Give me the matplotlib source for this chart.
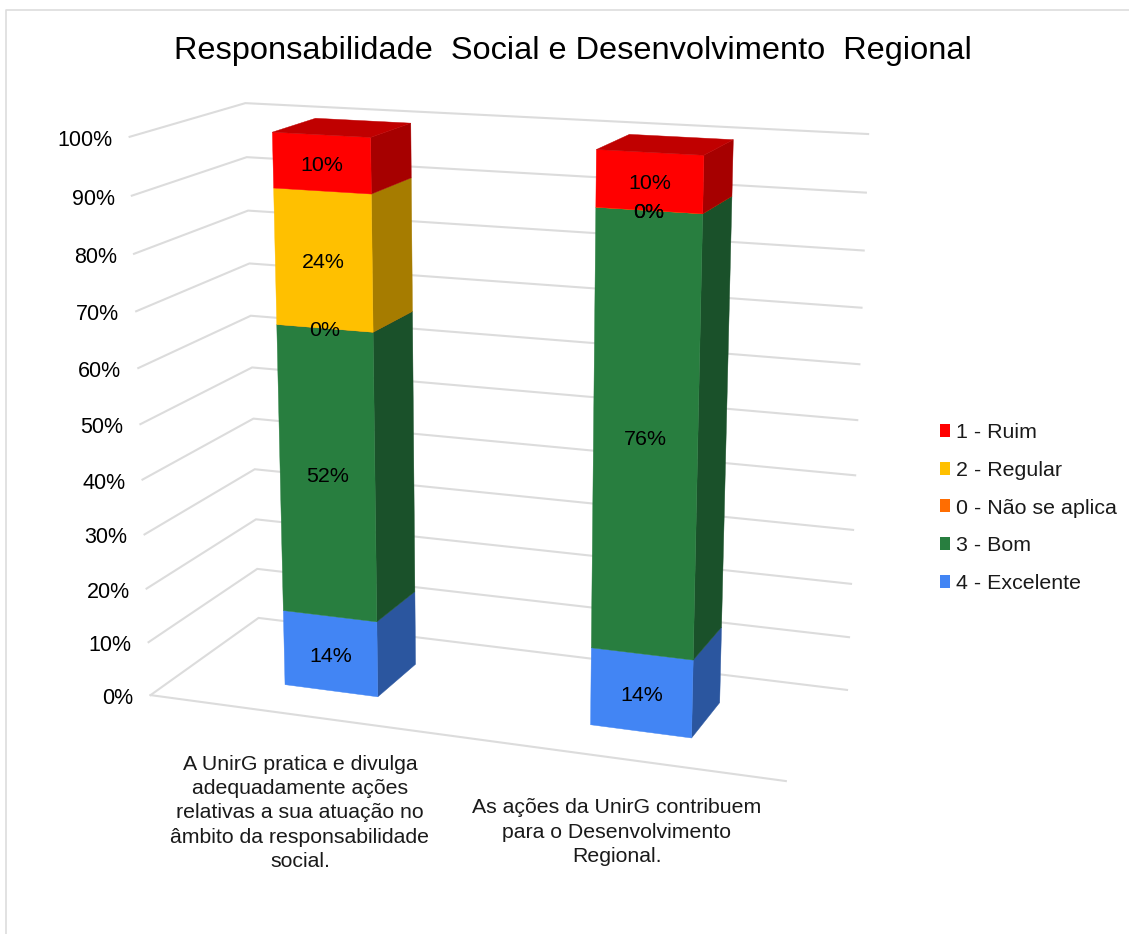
import numpy as np
import matplotlib
matplotlib.use("Agg")
import matplotlib.pyplot as plt
from matplotlib.patches import Patch, Polygon

plt.rcParams["font.family"] = ["Liberation Sans", "DejaVu Sans"]

TITLE = "Responsabilidade  Social e Desenvolvimento  Regional"
CATEGORIES = [
    "A UnirG pratica e divulga\nadequadamente ações\nrelativas a sua atuação no\nâmbito da responsabilidade\nsocial.",
    "As ações da UnirG contribuem\npara o Desenvolvimento\nRegional.",
]
SERIES = ["4 - Excelente", "3 - Bom", "0 - Não se aplica", "2 - Regular", "1 - Ruim"]
# labels show them rounded
EXCELENTE = [14.1, 14.1]
BOM = [52.4, 76.4]
NAO_APLICA = [0, 0]
REGULAR = [23.9, 0]
RUIM = [9.6, 9.5]
TICKS = [0, 10, 20, 30, 40, 50, 60, 70, 80, 90, 100]

FRONT = ["#4285F4", "#287E3F", "#FF6D01", "#FFC000", "#FF0000"]
SIDE = ["#2B569F", "#1A512A", "#A64700", "#A67C00", "#A60000"]
TOP = ["#3568C0", "#216532", "#CC5700", "#CC9900", "#C00000"]
GRID = "#DCDCDC"

# pixel position of the chart box corners, used to fit the 3D view
# (category axis 0-1, value 0-100, depth 0-1) -> (x px, y px)
BOX_WORLD = [(0, 0, 0), (0, 0, 1), (1, 0, 1), (1, 0, 0), (0, 100, 0), (0, 100, 1), (1, 100, 1)]
BOX_PX = [(151, 695), (258, 618), (847, 690), (786, 781), (129, 137), (246, 103), (868, 134)]

BAR_U = [0.253, 0.752]
BAR_HALF = 0.078
DEPTH = (0.29, 0.69)


def fit_view(world, px):
    rows, rhs = [], []
    for (u, v, w), (x, y) in zip(world, px):
        rows.append([u, v, w, 1, 0, 0, 0, 0, -x * u, -x * v, -x * w])
        rows.append([0, 0, 0, 0, u, v, w, 1, -y * u, -y * v, -y * w])
        rhs += [x, y]
    sol = np.linalg.lstsq(np.array(rows, float), np.array(rhs, float), rcond=None)[0]
    return np.append(sol, 1).reshape(3, 4)


VIEW = fit_view(BOX_WORLD, BOX_PX)


def project(u, v, w):
    p = VIEW @ np.array([u, v, w, 1.0])
    return p[0] / p[2], p[1] / p[2]


fig = plt.figure(figsize=(11.29, 9.34), dpi=100, facecolor="white")
ax = fig.add_axes([0, 0, 1, 1])
ax.set_xlim(0, 1129)
ax.set_ylim(934, 0)
ax.axis("off")

# outer chart frame
ax.plot([6, 6, 1129], [934, 10, 10], color="#DDDDDD", lw=1.2)

ax.text(573, 51, TITLE, ha="center", va="center", fontsize=23.4, color="black")

# walls and floor
for t in TICKS:
    pts = [project(0, t, 0), project(0, t, 1), project(1, t, 1)]
    ax.plot(*zip(*pts), color=GRID, lw=1.5, zorder=1, solid_joinstyle="miter")
    x, y = project(0, t, 0)
    ax.text(x - 17, y + 3.5, f"{t}%", ha="right", va="center", fontsize=15.5, color="black")
ax.plot(*zip(project(0, 0, 0), project(1, 0, 0)), color=GRID, lw=1.5, zorder=1)

# stacked bars
stack = [EXCELENTE, BOM, NAO_APLICA, REGULAR, RUIM]
w0, w1 = DEPTH
for i, uc in enumerate(BAR_U):
    u0, u1 = uc - BAR_HALF, uc + BAR_HALF
    base = 0
    for s, vals in enumerate(stack):
        top = base + vals[i]
        front = [project(u0, base, w0), project(u1, base, w0), project(u1, top, w0), project(u0, top, w0)]
        side = [project(u1, base, w0), project(u1, base, w1), project(u1, top, w1), project(u1, top, w0)]
        ax.add_patch(Polygon(side, fc=SIDE[s], ec=SIDE[s], lw=0.3, zorder=3 + s))
        ax.add_patch(Polygon(front, fc=FRONT[s], ec=FRONT[s], lw=0.3, zorder=3 + s))
        if s == len(stack) - 1:
            lid = [project(u0, top, w0), project(u1, top, w0), project(u1, top, w1), project(u0, top, w1)]
            ax.add_patch(Polygon(lid, fc=TOP[s], ec=TOP[s], lw=0.3, zorder=3 + s))
        x, y = project(uc, (base + top) / 2, w0)
        ax.text(x, y + 2.5, f"{vals[i]:.0f}%", ha="center", va="center", fontsize=15.4, color="black", zorder=20)
        base = top

# category labels
LABEL_POS = [(300, 813), (617, 832)]
for label, (x, y) in zip(CATEGORIES, LABEL_POS):
    ax.text(x, y, label, ha="center", va="center", fontsize=15.35, linespacing=1.36, color="#1a1a1a")

handles = [Patch(fc=FRONT[s], ec="none", label=SERIES[s]) for s in range(len(SERIES) - 1, -1, -1)]
ax.legend(handles=handles, loc="center left", bbox_to_anchor=(940, 508), bbox_transform=ax.transData,
          frameon=False, fontsize=15.4, handlelength=0.47, handleheight=0.55, handletextpad=0.3,
          labelspacing=0.88, borderpad=0, borderaxespad=0, labelcolor="#1a1a1a")

fig.savefig("out.png", dpi=100, facecolor="white")
